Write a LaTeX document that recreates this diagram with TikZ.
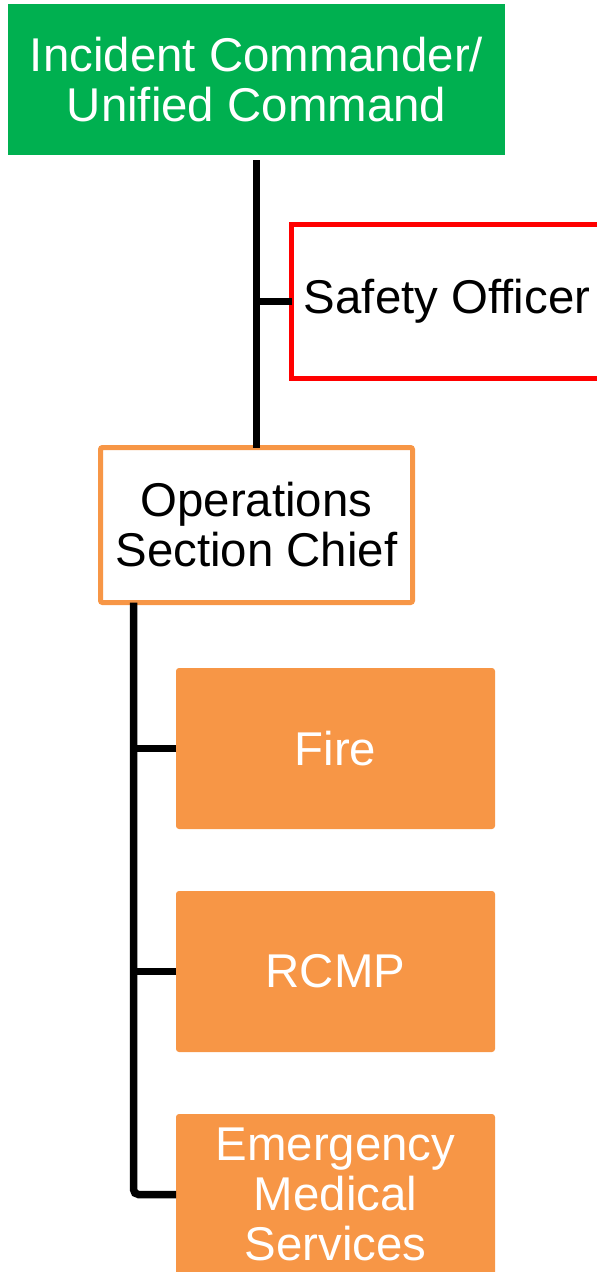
\documentclass[tikz,border=0pt]{standalone}
\usepackage{fontspec}
\setmainfont{Liberation Sans}
\definecolor{icsgreen}{HTML}{00B050}
\definecolor{icsorange}{HTML}{F79646}
\definecolor{icsred}{HTML}{FF0000}
\tikzset{
  boxtext/.style={font=\fontsize{47.4}{50}\selectfont, align=center, inner sep=0pt, outer sep=0pt},
  cmdbox/.style={boxtext, fill=icsgreen, text=white, minimum width=497pt, minimum height=151pt},
  staffbox/.style={boxtext, draw=icsred, line width=5pt, fill=white, minimum width=311pt, minimum height=154pt},
  chiefbox/.style={boxtext, draw=icsorange, line width=5pt, fill=white, rounded corners=2pt, minimum width=312pt, minimum height=155pt},
  unitbox/.style={boxtext, fill=icsorange, text=white, rounded corners=3pt, minimum width=319pt, minimum height=161pt},
  orgline/.style={line width=7.5pt, black}
}
\begin{document}
\begin{tikzpicture}[x=1pt,y=-1pt]
  \useasboundingbox (0,0) rectangle (597,1272);
  \clip (0,0) rectangle (597,1272);
  % command and staff
  \node[cmdbox] (ic) at (256.5,79.5) {Incident Commander/\\Unified Command};
  \node[staffbox] (safety) at (447,301.5) {Safety Officer};
  \node[chiefbox] (ops) at (256.5,525) {Operations\\Section Chief};
  % units under operations
  \node[unitbox] (fire) at (335.5,748.5) {Fire};
  \node[unitbox] (rcmp) at (335.5,971.5) {RCMP};
  \node[unitbox] (ems) at (335.5,1194.5) {Emergency\\Medical\\Services};
  % connectors
  \draw[orgline, shorten <=5pt] (ic.south) -- (ops.north);
  \draw[orgline] (safety.west) -- (safety.west -| ic.south);
  \coordinate (optrunk) at ([xshift=33pt]ops.south west);
  \draw[orgline, rounded corners=5pt] (optrunk) |- (ems.west);
  \foreach \u in {fire,rcmp}
    \draw[orgline] (\u.west) -- (\u.west -| optrunk);
\end{tikzpicture}
\end{document}
